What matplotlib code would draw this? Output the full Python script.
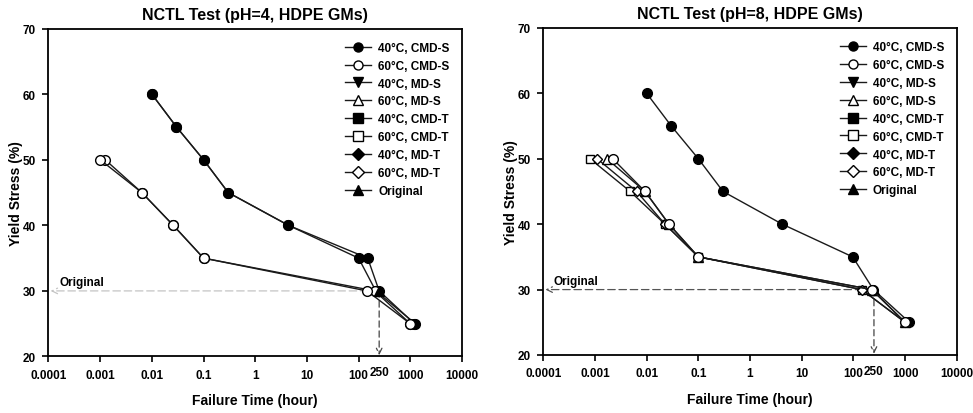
import matplotlib
matplotlib.use('Agg')
import matplotlib.pyplot as plt
from matplotlib.lines import Line2D

plt.rcParams['font.family'] = ['Liberation Sans', 'DejaVu Sans']
plt.rcParams['font.weight'] = 'bold'

# yield stress levels (%)
stress_40 = [60, 55, 50, 45, 40, 35, 30, 25]
stress_60 = [50, 45, 40, 35, 30, 25]

# pH = 4 failure times (hour)
ph4_40_a = [0.01, 0.03, 0.1, 0.3, 4.4, 100, 215, 1250]
ph4_40_b = [0.01, 0.03, 0.1, 0.3, 4.4, 150, 250, 1200]
ph4_60_a = [0.001, 0.0064, 0.026, 0.1, 145, 1000]
ph4_60_b = [0.00125, 0.0064, 0.026, 0.1, 205, 1000]

# pH = 8 failure times (hour)
ph8_40 = [0.01, 0.03, 0.1, 0.3, 4.2, 97, 244, 1210]
ph8_60_cmd_s = [0.0022, 0.0093, 0.027, 0.1, 227, 1000]
ph8_60_md_s = [0.0017, 0.0093, 0.027, 0.1, 227, 1000]
ph8_60_cmd_t = [0.0008, 0.0048, 0.0226, 0.1, 145, 1000]
ph8_60_md_t = [0.0011, 0.0064, 0.0226, 0.1, 145, 1000]

original_time = 250
original_stress = 30

legend_labels = ['40°C, CMD-S', '60°C, CMD-S', '40°C, MD-S', '60°C, MD-S',
                 '40°C, CMD-T', '60°C, CMD-T', '40°C, MD-T', '60°C, MD-T',
                 'Original']
legend_markers = ['o', 'o', 'v', '^', 's', 's', 'D', 'D', '^']
legend_filled = [True, False, True, False, True, False, True, False, True]

xticks = [1e-4, 1e-3, 1e-2, 1e-1, 1, 10, 100, 1000, 10000]
xticklabels = ['0.0001', '0.001', '0.01', '0.1', '1', '10', '100', '1000', '10000']
yticks = [20, 30, 40, 50, 60, 70]


def series(ax, x, y, marker, filled, ms=7, z=3):
    ax.plot(x, y, color='#1a1a1a', lw=1.0, marker=marker, ms=ms,
            mfc='black' if filled else 'white', mec='black', mew=1.0,
            zorder=z)


def style_axes(ax, title, hcolor):
    ax.set_xscale('log')
    ax.set_xlim(1e-4, 1e4)
    ax.set_ylim(20, 70)
    ax.set_xticks(xticks)
    ax.set_xticklabels(xticklabels)
    ax.set_xticks([250], minor=True)
    ax.set_xticklabels(['250'], minor=True)
    ax.set_yticks(yticks)
    ax.tick_params(which='major', direction='out', length=4, width=1.2,
                   labelsize=8.5, pad=5)
    ax.tick_params(axis='x', which='minor', length=0, labelsize=8.5, pad=7)
    for sp in ax.spines.values():
        sp.set_linewidth(1.3)
    ax.set_title(title, fontsize=11.5, fontweight='bold', pad=7)
    ax.set_xlabel('Failure Time (hour)', fontsize=10, fontweight='bold', labelpad=9)
    ax.set_ylabel('Yield Stress (%)', fontsize=10, fontweight='bold', labelpad=0)

    # dashed guide lines for the original sample
    ax.annotate('', xy=(1.1e-4, original_stress),
                xytext=(original_time, original_stress),
                arrowprops=dict(arrowstyle='->', ls=(0, (6, 3)), lw=0.9,
                                color=hcolor, shrinkA=0, shrinkB=0), zorder=1)
    ax.annotate('', xy=(original_time, 20.2),
                xytext=(original_time, original_stress),
                arrowprops=dict(arrowstyle='->', ls=(0, (5, 3)), lw=0.9,
                                color='#444444', shrinkA=0, shrinkB=0), zorder=1)
    ax.text(1.6e-4, 31.3, 'Original', fontsize=8.5, fontweight='bold',
            va='center', ha='left')

    handles = []
    for mk, fl in zip(legend_markers, legend_filled):
        handles.append(Line2D([], [], color='#1a1a1a', lw=1.0, marker=mk, ms=6.5,
                              mfc='black' if fl else 'white', mec='black', mew=1.0))
    ax.legend(handles, legend_labels, loc='upper right',
              bbox_to_anchor=(0.99, 0.985), frameon=False, fontsize=8.5,
              handlelength=2.2, handletextpad=0.6, labelspacing=0.5,
              borderaxespad=0.3)


fig = plt.figure(figsize=(9.73, 4.14), dpi=100)
ax1 = fig.add_axes([0.0498, 0.1365, 0.425, 0.792])
ax2 = fig.add_axes([0.5584, 0.1401, 0.4249, 0.790])

# pH = 4
series(ax1, ph4_40_b, stress_40, 'o', True)
series(ax1, ph4_40_a, stress_40, 'o', True)
series(ax1, ph4_60_b, stress_60, 'o', False)
series(ax1, ph4_60_a, stress_60, 'o', False)
ax1.plot([original_time], [original_stress], ls='none', marker='^', ms=6.5,
         color='black', zorder=4)
style_axes(ax1, 'NCTL Test (pH=4, HDPE GMs)', '#c4c4c4')

# pH = 8
series(ax2, ph8_40, stress_40, 'o', True, z=3)
series(ax2, ph8_60_cmd_t, stress_60, 's', False, ms=6, z=3.1)
series(ax2, ph8_60_md_t, stress_60, 'D', False, ms=5.5, z=3.2)
series(ax2, ph8_60_md_s, stress_60, '^', False, z=3.3)
series(ax2, ph8_60_cmd_s, stress_60, 'o', False, z=3.4)
ax2.plot([original_time], [original_stress], ls='none', marker='^', ms=6.5,
         color='black', zorder=3.05)
style_axes(ax2, 'NCTL Test (pH=8, HDPE GMs)', '#555555')

fig.savefig('out.png', dpi=100)
